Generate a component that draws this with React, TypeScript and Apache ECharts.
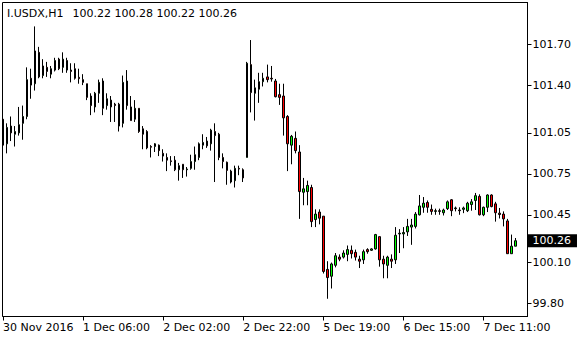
import React, { useEffect, useRef } from "react";
import * as echarts from "echarts";

const symbol = "I.USDX";
const period = "H1";

const tickLabels = [
  "30 Nov 2016",
  "1 Dec 06:00",
  "2 Dec 02:00",
  "2 Dec 22:00",
  "5 Dec 19:00",
  "6 Dec 15:00",
  "7 Dec 11:00",
];
const barsPerLabel = 20;
const emptySlots = 3;

const yTicks = [99.8, 100.1, 100.45, 100.75, 101.05, 101.4, 101.7];

const opens = [
  101.15, 100.97, 101.10, 101.04, 101.05, 101.12, 101.17, 101.45, 101.41, 101.64,
  101.47, 101.53, 101.48, 101.51, 101.59, 101.53, 101.58, 101.51, 101.52, 101.457,
  101.44, 101.41, 101.32, 101.24, 101.34, 101.43, 101.25, 101.29, 101.26, 101.26,
  101.12, 101.43, 101.24, 101.15, 101.23, 101.08, 101.06, 100.95, 100.95, 100.96,
  100.90, 100.87, 100.845, 100.85, 100.78, 100.82, 100.78, 100.79, 100.84, 100.87,
  100.96, 100.99, 100.97, 101.06, 101.04, 100.87, 100.835, 100.77, 100.70, 100.79,
  100.78, 100.87, 101.55, 101.34, 101.37, 101.425, 101.46, 101.45, 101.43, 101.33,
  101.32, 101.17, 100.96, 101.01, 100.91, 100.615, 100.62, 100.65, 100.415, 100.47,
  100.44, 100.05, 100.00, 100.08, 100.14, 100.14, 100.16, 100.19, 100.175, 100.125,
  100.12, 100.195, 100.19, 100.20, 100.29, 100.125, 100.08, 100.125, 100.12, 100.31,
  100.31, 100.325, 100.36, 100.365, 100.45, 100.505, 100.54, 100.49, 100.475, 100.48,
  100.465, 100.495, 100.56, 100.495, 100.485, 100.49, 100.48, 100.525, 100.555, 100.585,
  100.45, 100.505, 100.595, 100.53, 100.462, 100.455, 100.405, 100.165, 100.22,
];
const highs = [
  101.19, 101.12, 101.17, 101.10, 101.24, 101.25, 101.53, 101.52, 101.83, 101.68,
  101.59, 101.57, 101.54, 101.60, 101.60, 101.64, 101.60, 101.56, 101.56, 101.52,
  101.48, 101.41, 101.34, 101.35, 101.44, 101.45, 101.34, 101.32, 101.27, 101.27,
  101.47, 101.51, 101.32, 101.29, 101.23, 101.10, 101.07, 100.96, 100.975, 100.965,
  100.93, 100.90, 100.88, 100.88, 100.83, 100.82, 100.80, 100.89, 100.95, 100.98,
  101.04, 101.02, 101.08, 101.12, 101.05, 100.90, 100.84, 100.78, 100.81, 100.81,
  100.79, 101.57, 101.73, 101.44, 101.49, 101.49, 101.55, 101.54, 101.445, 101.41,
  101.41, 101.18, 101.035, 101.06, 100.96, 100.72, 100.70, 100.67, 100.49, 100.49,
  100.44, 100.11, 100.10, 100.17, 100.16, 100.19, 100.225, 100.225, 100.195, 100.15,
  100.195, 100.205, 100.205, 100.31, 100.29, 100.15, 100.15, 100.16, 100.36, 100.345,
  100.36, 100.42, 100.42, 100.47, 100.595, 100.58, 100.555, 100.525, 100.495, 100.495,
  100.495, 100.555, 100.565, 100.51, 100.505, 100.51, 100.545, 100.565, 100.61, 100.60,
  100.51, 100.60, 100.60, 100.545, 100.50, 100.475, 100.42, 100.305, 100.28,
];
const lows = [
  100.91, 100.90, 100.99, 100.95, 101.03, 101.00, 101.15, 101.30, 101.36, 101.45,
  101.45, 101.46, 101.45, 101.50, 101.51, 101.49, 101.49, 101.42, 101.44, 101.41,
  101.40, 101.29, 101.18, 101.20, 101.27, 101.18, 101.22, 101.13, 101.13, 101.06,
  101.09, 101.22, 101.14, 101.13, 101.05, 100.93, 100.93, 100.87, 100.91, 100.88,
  100.84, 100.77, 100.81, 100.77, 100.70, 100.72, 100.73, 100.78, 100.78, 100.85,
  100.93, 100.94, 100.92, 100.69, 100.85, 100.79, 100.67, 100.68, 100.65, 100.74,
  100.69, 100.87, 101.20, 101.14, 101.27, 101.39, 101.42, 101.425, 101.31, 101.255,
  101.03, 100.77, 100.82, 100.90, 100.42, 100.52, 100.52, 100.36, 100.36, 100.38,
  100.02, 99.835, 99.91, 100.065, 100.11, 100.13, 100.11, 100.13, 100.115, 100.06,
  100.09, 100.165, 100.185, 100.195, 100.07, 99.985, 99.985, 100.06, 100.09, 100.17,
  100.205, 100.295, 100.23, 100.35, 100.445, 100.465, 100.465, 100.45, 100.45, 100.45,
  100.445, 100.485, 100.44, 100.475, 100.45, 100.462, 100.47, 100.48, 100.485, 100.445,
  100.44, 100.47, 100.505, 100.40, 100.423, 100.365, 100.165, 100.165, 100.22,
];
const closes = [
  100.96, 101.09, 101.05, 101.06, 101.11, 101.17, 101.44, 101.40, 101.65, 101.46,
  101.54, 101.50, 101.52, 101.58, 101.52, 101.59, 101.51, 101.50, 101.45, 101.447,
  101.42, 101.31, 101.25, 101.34, 101.42, 101.23, 101.30, 101.24, 101.25, 101.10,
  101.42, 101.25, 101.14, 101.23, 101.06, 101.04, 100.94, 100.945, 100.97, 100.92,
  100.88, 100.85, 100.84, 100.78, 100.81, 100.78, 100.785, 100.84, 100.89, 100.97,
  100.98, 100.955, 101.07, 101.03, 100.87, 100.84, 100.775, 100.69, 100.79, 100.785,
  100.72, 101.56, 101.345, 101.38, 101.425, 101.45, 101.44, 101.445, 101.315, 101.31,
  101.16, 100.97, 101.025, 100.92, 100.62, 100.64, 100.665, 100.40, 100.455, 100.425,
  100.035, 99.99, 100.09, 100.15, 100.125, 100.17, 100.195, 100.165, 100.14, 100.11,
  100.18, 100.18, 100.20, 100.305, 100.12, 100.09, 100.14, 100.11, 100.30, 100.315,
  100.32, 100.365, 100.375, 100.455, 100.515, 100.535, 100.505, 100.475, 100.48, 100.475,
  100.485, 100.545, 100.48, 100.50, 100.48, 100.50, 100.535, 100.545, 100.59, 100.45,
  100.505, 100.595, 100.51, 100.465, 100.452, 100.42, 100.165, 100.22, 100.26,
];

const FONT = '"DejaVu Sans", Verdana, sans-serif';

export default function App() {
  const ref = useRef<HTMLDivElement>(null);

  useEffect(() => {
    document.body.style.margin = "0";
    if (!ref.current) return;
    const chart = echarts.init(ref.current, null, { renderer: "svg" });

    const slotCount = opens.length + emptySlots;
    const categories: string[] = [];
    for (let i = 0; i < slotCount; i++) {
      const k = i / barsPerLabel;
      categories.push(i % barsPerLabel === 0 && k < tickLabels.length ? tickLabels[k] : "");
    }
    const candles = opens.map((o, i) => [o, closes[i], lows[i], highs[i]]);
    const n = opens.length - 1;
    const header = [opens[n], highs[n], lows[n], closes[n]].map((v) => v.toFixed(2)).join(" ");

    chart.setOption({
      animation: false,
      backgroundColor: "#fff",
      grid: { left: 2.5, top: 2.5, width: 525, height: 314, containLabel: false },
      xAxis: {
        type: "category",
        data: categories,
        boundaryGap: false,
        axisLine: { show: true, lineStyle: { color: "#000", width: 1 } },
        axisTick: { show: true, interval: barsPerLabel - 1, length: 4, lineStyle: { color: "#000" } },
        axisLabel: {
          show: true,
          interval: barsPerLabel - 1,
          align: "left",
          margin: 5,
          color: "#000",
          fontFamily: FONT,
          fontSize: 11,
        },
        splitLine: { show: false },
      },
      yAxis: {
        type: "value",
        position: "right",
        min: 99.705,
        max: 102.005,
        scale: true,
        axisLine: { show: true, lineStyle: { color: "#000", width: 1 } },
        axisTick: { show: true, length: 4, customValues: yTicks, lineStyle: { color: "#000" } },
        axisLabel: {
          show: true,
          customValues: yTicks,
          margin: 5,
          color: "#000",
          fontFamily: FONT,
          fontSize: 11,
          formatter: (v: number) => v.toFixed(2),
        },
        splitLine: { show: false },
      },
      series: [
        {
          type: "candlestick",
          data: candles,
          barWidth: 2,
          itemStyle: {
            color: "#00ff00",
            color0: "#ff0000",
            borderColor: "#000",
            borderColor0: "#000",
            borderColorDoji: "#000",
            borderWidth: 1,
          },
          markLine: {
            silent: true,
            symbol: "none",
            animation: false,
            lineStyle: { color: "rgba(0,0,0,0)", width: 1, type: "solid" },
            emphasis: { disabled: true },
            data: [{ yAxis: closes[n] }],
            label: {
              show: true,
              position: "end",
              distance: 0,
              formatter: (p: any) => Number(p.value).toFixed(2),
              color: "#fff",
              backgroundColor: "#000",
              fontFamily: FONT,
              fontSize: 11,
              padding: [1, 6, 1, 5],
            },
          },
        },
      ],
      graphic: [
        {
          type: "rect",
          silent: true,
          z: 100,
          shape: { x: 2.5, y: 2.5, width: 525, height: 314 },
          style: { fill: "none", stroke: "#000", lineWidth: 1 },
        },
        {
          type: "text",
          z: 101,
          style: {
            x: 7,
            y: 13.5,
            text: `${symbol},${period}`,
            font: `11px ${FONT}`,
            fill: "#000",
            verticalAlign: "middle",
            textVerticalAlign: "middle",
          },
        },
        {
          type: "text",
          z: 101,
          style: {
            x: 72.5,
            y: 13.5,
            text: header,
            font: `11px ${FONT}`,
            fill: "#000",
            verticalAlign: "middle",
            textVerticalAlign: "middle",
          },
        },
      ],
    });

    return () => chart.dispose();
  }, []);

  return <div ref={ref} style={{ width: 580, height: 340 }} />;
}
